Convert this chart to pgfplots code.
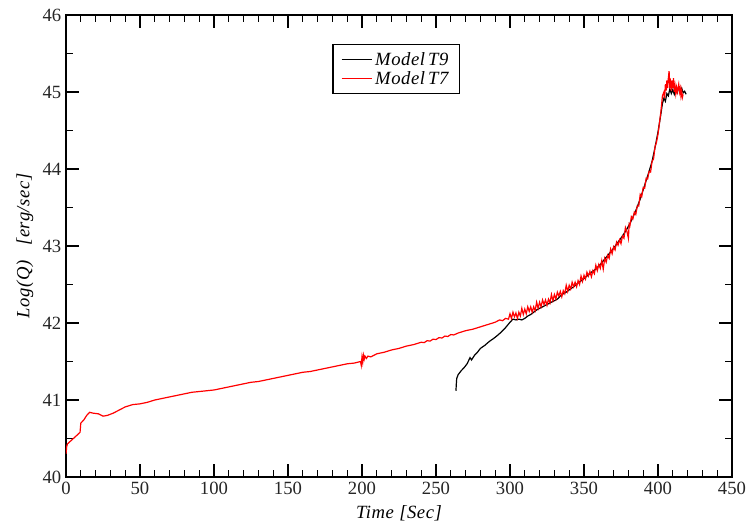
\documentclass[border=0pt]{standalone}
\usepackage{pgfplots}
\pgfplotsset{compat=1.18}
\usepackage{fontspec}
\setmainfont{Liberation Serif}
\newfontfamily\spaced[LetterSpace=3]{Liberation Serif}
\begin{document}
\begin{tikzpicture}
\useasboundingbox (-49.5pt,-33pt) rectangle (510.75pt,357.75pt);
\begin{axis}[
  at={(0,0)}, anchor=south west,
  scale only axis,
  width=499.5pt, height=346.5pt,
  xmin=0, xmax=450, ymin=40, ymax=46,
  xtick={0,50,...,450}, ytick={40,41,...,46},
  minor x tick num=4, minor y tick num=1,
  tick align=inside,
  major tick length=10pt, minor tick length=5pt,
  tick style={line width=0.9pt, black},
  axis line style={line width=0.9pt},
  /pgf/number format/assume math mode=true,
  ticklabel style={font=\fontsize{14}{16}\selectfont, text=black!85},
  xlabel={\spaced\itshape Time [Sec]},
  ylabel={\spaced\itshape Log(Q)\hspace{0.8em}[erg/sec]},
  label style={font=\fontsize{14}{16}\selectfont},
  xlabel style={at={(axis description cs:0.5,-0.078)}, anchor=center},
  ylabel style={at={(axis description cs:-0.0616,0.5)}, anchor=center},
  legend style={at={(axis cs:180,45.62)}, anchor=north west, draw=black, line width=0.9pt,
     font=\fontsize{14}{16}\selectfont\spaced\itshape, inner xsep=6pt, inner ysep=3.5pt, row sep=-1pt},
  legend cell align=left,
  legend image code/.code={\draw[#1, line width=0.9pt] (0cm,0cm) -- (0.8cm,0cm);},
]
\addplot[black, line width=0.9pt] coordinates {
(263.5,41.12) (263.7,41.20) (264,41.28) (265,41.33) (267,41.38) (269,41.42) (271,41.47)
(273,41.55) (274,41.52) (276,41.58) (278,41.62) (280,41.67) (283,41.71) (286,41.76)
(289,41.80) (291,41.83) (294,41.88) (297,41.94) (300,42.01) (302,42.05) (304,42.04)
(306,42.05) (308,42.04) (310,42.06) (312,42.09) (314,42.11) (316,42.14) (318,42.17)
(320,42.19) (322,42.21) (324,42.23) (326,42.25) (328,42.27) (330,42.29) (332,42.31)
(334,42.35) (336,42.38) (338,42.40) (340,42.43) (343,42.47) (346,42.52) (349,42.56)
(352,42.61) (355,42.66) (358,42.70) (361,42.76) (364,42.83) (367,42.90) (370,42.97)
(373,43.05) (376,43.13) (379,43.22) (382,43.33) (385,43.46) (388,43.61) (391,43.79)
(394,43.97) (396,44.10) (398,44.28) (400,44.48) (401,44.60) (402,44.72) (403,44.85)
(404,44.92) (405,44.88) (406,44.98) (407,44.95) (408,45.04) (409,44.98) (410,45.03)
(411,44.97) (412,45.04) (413,44.99) (414,45.06) (415,45.02) (416,45.05) (417,44.99)
(418,45.01) (419,44.97)
};
\addlegendentry{Model\,T9}
\addplot[red, line width=0.9pt] coordinates {
(0,40.30) (0.5,40.40) (1,40.43) (5,40.50) (9.5,40.58) (10,40.70) (12,40.74) (14,40.80)
(16,40.84) (18,40.83) (22,40.82) (25,40.79) (28,40.80) (32,40.83) (36,40.87) (40,40.91)
(45,40.94) (50,40.95) (55,40.97) (60,41.00) (65,41.02) (70,41.04) (75,41.06) (80,41.08)
(85,41.10) (90,41.11) (95,41.12) (100,41.13) (105,41.15) (110,41.17) (115,41.19)
(120,41.21) (125,41.23) (130,41.24) (135,41.26) (140,41.28) (145,41.30) (150,41.32)
(155,41.34) (160,41.36) (165,41.37) (170,41.39) (175,41.41) (180,41.43) (185,41.45)
(190,41.47) (195,41.48) (199,41.50) (199.5,41.45) (200,41.56) (200.5,41.49) (201,41.58)
(201.5,41.53) (202,41.57) (203,41.54) (204,41.57) (206,41.56) (210,41.60) (215,41.62)
(220,41.65) (225,41.67) (230,41.70) (235,41.72) (240,41.75) (242,41.745) (244,41.77)
(246,41.765) (248,41.79) (250,41.785) (252,41.81) (254,41.805) (256,41.83) (258,41.825)
(260,41.85) (262,41.845) (265,41.87) (270,41.90) (275,41.92) (280,41.95) (285,41.98)
(290,42.01) (293,42.04) (295,42.03) (297,42.06) (299,42.05)
(300,42.12) (301,42.06) (302,42.14) (303,42.08) (304,42.13) (305,42.06) (306,42.14)
(307,42.09) (308,42.19) (309,42.11) (310,42.18) (311,42.12) (312,42.21) (313,42.15)
(314,42.21) (315,42.14) (316,42.21) (317,42.16) (318,42.27) (319,42.19) (320,42.27)
(321,42.21) (322,42.30) (323,42.24) (324,42.30) (325,42.23) (326,42.31) (327,42.26)
(328,42.37) (329,42.29) (330,42.37) (331,42.31) (332,42.40) (333,42.35) (334,42.41)
(335,42.34) (336,42.42) (337,42.38) (338,42.49) (339,42.41) (340,42.49) (341,42.44)
(342,42.53) (343,42.47) (344,42.53) (345,42.47) (346,42.55) (347,42.50) (348,42.61)
(349,42.54) (350,42.62) (351,42.57) (352,42.66) (353,42.61) (354,42.67) (355,42.60)
(356,42.68) (357,42.64) (358,42.75) (359,42.68) (360,42.76) (361,42.71) (362,42.81)
(363,42.70) (364,42.84) (365,42.79) (366,42.88) (367,42.84) (368,42.96) (369,42.90)
(370,42.99) (371,42.95) (372,43.05) (373,43.01) (374,43.08) (375,43.03) (376,43.13)
(377,43.10) (378,43.24) (379,43.19) (380,43.10) (380.5,43.28) (381,43.26) (382,43.38)
(383,43.35) (384,43.44) (385,43.41) (386,43.52) (387,43.52) (388,43.67) (389,43.64)
(390,43.76) (391,43.75) (392,43.88) (393,43.87) (394,43.97) (395,43.96) (396,44.10)
(397,44.13) (398,44.29) (399,44.35) (400,44.45) (401,44.60) (402,44.75) (403,44.95)
(404,45.00) (404.5,44.92) (405,45.10) (405.5,45.02) (406,45.15) (406.5,45.05) (407,45.18)
(407.5,45.27) (408,45.05) (408.5,45.12) (409,45.02) (409.5,45.15) (410,45.05)
(410.5,45.18) (411,45.00) (411.5,45.08) (412,44.98) (412.5,45.06) (413,45.00)
(414,45.10) (414.5,45.00) (415,45.05) (415.5,44.95) (416,45.02) (416.5,44.93) (417,44.97)
};
\addlegendentry{Model\,T7}
\end{axis}
\end{tikzpicture}
\end{document}
